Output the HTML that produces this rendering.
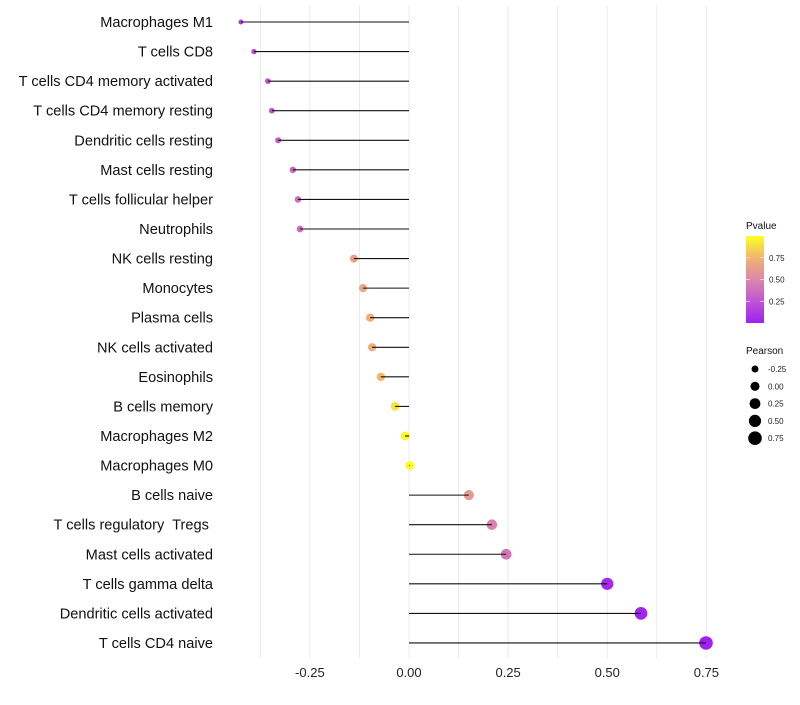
<!DOCTYPE html>
<html><head><meta charset="utf-8"><style>
body{margin:0;background:#fff;font-family:"Liberation Sans",sans-serif}
</style></head><body>
<svg id="chart" width="800" height="700" xmlns="http://www.w3.org/2000/svg">
<defs><linearGradient id="pg" x1="0" y1="1" x2="0" y2="0">
<stop offset="0" stop-color="#a020f0"/><stop offset="0.25" stop-color="#c054d4"/>
<stop offset="0.5" stop-color="#da88a8"/><stop offset="0.75" stop-color="#f0b472"/>
<stop offset="1" stop-color="#ffff20"/></linearGradient></defs>
<g id="grid"></g><g id="marks"></g><g id="labels"></g>
<g id="legend"></g>
</svg>
<script>
const categories=["Macrophages M1","T cells CD8","T cells CD4 memory activated","T cells CD4 memory resting","Dendritic cells resting","Mast cells resting","T cells follicular helper","Neutrophils","NK cells resting","Monocytes","Plasma cells","NK cells activated","Eosinophils","B cells memory","Macrophages M2","Macrophages M0","B cells naive","T cells regulatory  Tregs ","Mast cells activated","T cells gamma delta","Dendritic cells activated","T cells CD4 naive"];
const pearson=[-0.424,-0.391,-0.356,-0.346,-0.330,-0.293,-0.280,-0.275,-0.139,-0.116,-0.098,-0.093,-0.071,-0.035,-0.010,0.002,0.151,0.209,0.245,0.500,0.585,0.749];
const pvalue=[0.15,0.2,0.27,0.28,0.3,0.35,0.37,0.37,0.64,0.68,0.72,0.72,0.77,0.9,0.97,0.99,0.6,0.47,0.42,0.04,0.02,0.0];
const xTicks=[-0.25,0,0.25,0.5,0.75];
const xTickLabels=["-0.25","0.00","0.25","0.50","0.75"];
const legendSizes=[-0.25,0,0.25,0.5,0.75];
const legendSizeLabels=["-0.25","0.00","0.25","0.50","0.75"];
const pTicks=[0.25,0.5,0.75];

const NS="http://www.w3.org/2000/svg";
const X=v=>409+v*396.5;
const Y=i=>22+i*29.57;
const R=v=>Math.sqrt(Math.max(3,12+34*(v+0.25)));
const stops=[[0,[160,32,240]],[0.25,[192,84,212]],[0.5,[218,136,168]],[0.75,[240,180,114]],[1,[255,255,32]]];
function col(p){for(let k=1;k<stops.length;k++){if(p<=stops[k][0]){const a=stops[k-1],b=stops[k];const t=(p-a[0])/(b[0]-a[0]);const c=a[1].map((x,j)=>Math.round(x+(b[1][j]-x)*t));return `rgb(${c})`;}}return "rgb(255,255,32)";}
function mk(tag,attrs,parent,text){const e=document.createElementNS(NS,tag);for(const k in attrs)e.setAttribute(k,attrs[k]);if(text!==undefined)e.textContent=text;parent.appendChild(e);return e;}
const grid=document.getElementById('grid'),marks=document.getElementById('marks'),labels=document.getElementById('labels'),leg=document.getElementById('legend');
for(let v=-0.375;v<=0.8;v+=0.125){const g=mk('line',{x1:X(v),x2:X(v),y1:5,y2:658,stroke:'#ebebeb','stroke-width':1},grid);

}
xTicks.forEach((t,i)=>{const e=mk('text',{x:X(t),y:677,'text-anchor':'middle','font-size':13,fill:'#222'},labels,xTickLabels[i]);

});
categories.forEach((c,i)=>{const y=Y(i);
const t=mk('text',{x:213,y:y+5,'text-anchor':'end','font-size':14.6,fill:'#111',style:'white-space:pre'},labels,c);


const p=mk('circle',{cx:X(pearson[i]),cy:y,r:R(pearson[i]),fill:col(pvalue[i])},marks);


const l=mk('line',{x1:X(0),x2:X(pearson[i]),y1:y,y2:y,stroke:'#111','stroke-width':1.1},marks);

});
const lt=mk('text',{x:746,y:229,'font-size':10,fill:'#111'},leg,'Pvalue');


const bar=mk('rect',{x:746,y:236,width:18,height:87,fill:'url(#pg)'},leg);


const PY=p=>323-p*87;
pTicks.forEach(p=>{mk('line',{x1:746,x2:750,y1:PY(p),y2:PY(p),stroke:'#fff','stroke-width':0.6},leg);mk('line',{x1:760,x2:764,y1:PY(p),y2:PY(p),stroke:'#fff','stroke-width':0.6},leg);
const e=mk('text',{x:769,y:PY(p)+3,'font-size':8,fill:'#222'},leg,p.toFixed(2));

});
const st=mk('text',{x:746,y:354,'font-size':10,fill:'#111'},leg,'Pearson');


legendSizes.forEach((v,i)=>{const y=369+i*17.3;
const c=mk('circle',{cx:755,cy:y,r:R(v),fill:'#000'},leg);


const e=mk('text',{x:768,y:y+3,'font-size':8,fill:'#222'},leg,legendSizeLabels[i]);

});
</script>
</body></html>
